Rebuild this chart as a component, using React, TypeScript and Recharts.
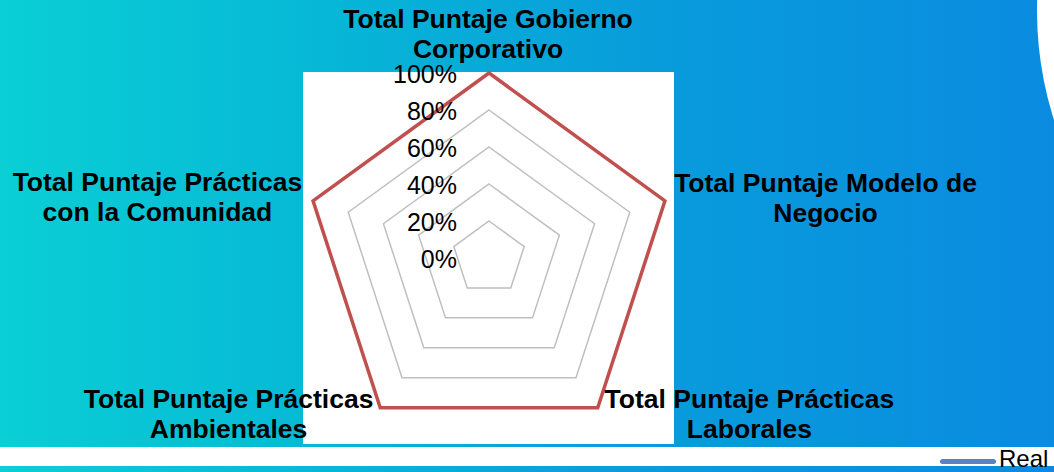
// @ts-nocheck
import { RadarChart, Radar, PolarGrid, PolarAngleAxis, PolarRadiusAxis } from 'recharts';

const categories = [
  ['Total Puntaje Gobierno', 'Corporativo'],
  ['Total Puntaje Modelo de', 'Negocio'],
  ['Total Puntaje Prácticas', 'Laborales'],
  ['Total Puntaje Prácticas', 'Ambientales'],
  ['Total Puntaje Prácticas', 'con la Comunidad'],
];
const realValues = [100, 100, 100, 100, 100];
const radiusTicks = [0, 20, 40, 60, 80, 100];
const seriesName = 'Real';

const data = categories.map((lines, i) => ({ name: lines.join(' '), lines, real: realValues[i] }));

const FONT = '"Liberation Sans", Arial, Helvetica, sans-serif';
const BG = 'linear-gradient(90deg, #0ACFD5 0%, #06B8D6 30%, #089DDB 60%, #0A8BE0 100%)';

// label centre / first baseline relative to the tick anchor
const labelOffsets = [
  { dx: -1, dy: -37 },
  { dx: 153, dy: -6 },
  { dx: 147, dy: -6 },
  { dx: -147, dy: -6 },
  { dx: -148, dy: -7 },
];

const AngleTick = (props) => {
  const { x, y, index, payload } = props;
  const lines = data[index]?.lines || [payload.value];
  const off = labelOffsets[index] || { dx: 0, dy: 0 };
  return (
    <text
      x={x + off.dx}
      y={y + off.dy}
      textAnchor="middle"
      fontFamily={FONT}
      fontSize={26.5}
      fontWeight="bold"
      fill="#000"
    >
      {lines.map((l, i) => (
        <tspan key={i} x={x + off.dx} dy={i === 0 ? 0 : 29.5}>
          {l}
        </tspan>
      ))}
    </text>
  );
};

const RadiusTick = (props) => {
  const { x, y, payload } = props;
  return (
    <text
      x={x - 32}
      y={y + 1}
      textAnchor="end"
      dominantBaseline="central"
      fontFamily={FONT}
      fontSize={25}
      fill="#000"
    >
      {`${payload.value}%`}
    </text>
  );
};

export default function App() {
  return (
    <div
      style={{
        position: 'absolute',
        left: 0,
        top: 0,
        width: 1054,
        height: 472,
        overflow: 'hidden',
        background: '#fff',
        fontFamily: FONT,
      }}
    >
      <div style={{ position: 'absolute', left: 0, top: 0, width: 1054, height: 447, background: BG }} />
      <div style={{ position: 'absolute', left: 0, top: 466, width: 1054, height: 6, background: BG }} />
      <div
        style={{
          position: 'absolute',
          left: 1037,
          top: -346,
          width: 714,
          height: 714,
          borderRadius: '50%',
          background: '#fff',
        }}
      />
      <div style={{ position: 'absolute', left: 303, top: 72, width: 371, height: 372, background: '#fff' }} />
      <div style={{ position: 'absolute', left: 0, top: 0 }}>
        <RadarChart
          width={1054}
          height={472}
          data={data}
          cx={489}
          cy={258}
          outerRadius={185}
          margin={{ top: 0, right: 0, bottom: 0, left: 0 }}
        >
          <PolarGrid gridType="polygon" radialLines={false} stroke="#BFBFBF" strokeWidth={1.5} />
          <PolarAngleAxis dataKey="name" tick={AngleTick} tickLine={false} axisLine={false} />
          <Radar
            name={seriesName}
            dataKey="real"
            stroke="#C0504D"
            strokeWidth={3.5}
            fill="none"
            fillOpacity={0}
            dot={false}
            isAnimationActive={false}
          />
          <PolarRadiusAxis
            angle={90}
            domain={[0, 100]}
            ticks={radiusTicks}
            tickCount={radiusTicks.length}
            axisLine={false}
            tickLine={false}
            tick={RadiusTick}
          />
        </RadarChart>
      </div>
      <div
        style={{
          position: 'absolute',
          left: 940,
          top: 459,
          width: 56,
          height: 5,
          background: '#5585C4',
          borderRadius: 2.5,
        }}
      />
      <span
        style={{
          position: 'absolute',
          left: 999,
          top: 448,
          fontSize: 24,
          color: '#000',
          lineHeight: '22px',
          height: 22,
          whiteSpace: 'nowrap',
        }}
      >
        {seriesName}
      </span>
    </div>
  );
}
